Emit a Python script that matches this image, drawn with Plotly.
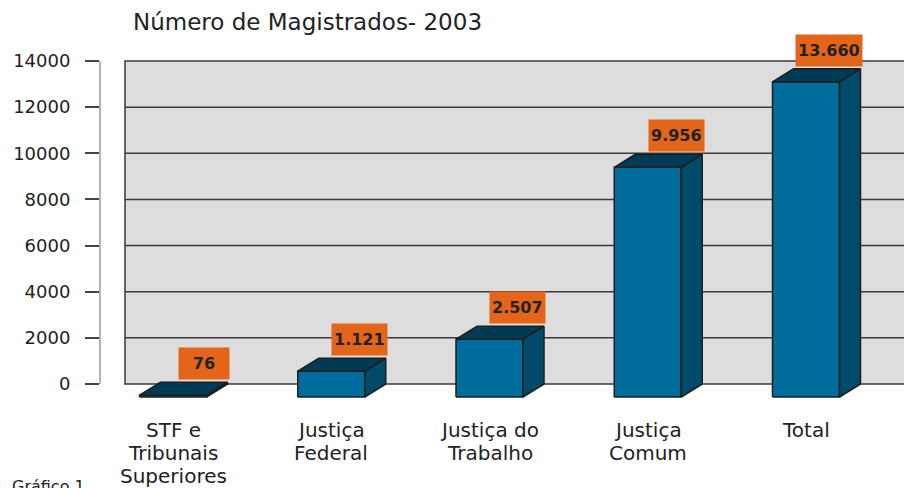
import plotly.graph_objects as go

# ---- data ----
categories = ["STF e<br>Tribunais<br>Superiores", "Justiça<br>Federal",
              "Justiça do<br>Trabalho", "Justiça<br>Comum", "Total"]
values = [76, 1121, 2507, 9956, 13660]
tick_values = [0, 2000, 4000, 6000, 8000, 10000, 12000, 14000]
tick_labels = ["0", "2000", "4000", "6000", "8000", "10000", "12000", "14000"]
title_text = "Número de Magistrados- 2003"
caption_text = "Gráfico 1"

# ---- geometry / style (page pixels; page body has an 8px margin) ----
OFF = 8
W, H = 912 - OFF, 488 - OFF
AXIS_PX = 100 - OFF
ML, MR, MT, MB = AXIS_PX, 0, 0, 0
PX_CAT = 158.25          # px per category
PX_Y = 323 / 14000       # px per value unit
ZERO_PX = 384 - OFF      # pixel row of value 0 on the back wall
FIRST_PX = 173 - OFF     # pixel column of first bar front centre

x_min = (ML - FIRST_PX) / PX_CAT
x_max = (W - MR - FIRST_PX) / PX_CAT
y_max = ZERO_PX / PX_Y
y_min = -(H - ZERO_PX) / PX_Y

half_w = 33.5 / PX_CAT
depth_x = 21 / PX_CAT
depth_y = 13 / PX_Y
wall_left = (125 - OFF - FIRST_PX) / PX_CAT

FRONT = "#006C9B"
SIDE = "#004B69"
TOP = "#003A55"
EDGE = "#1E1E1E"
ORANGE = "#E2651A"
FONT = "DejaVu Sans"
LABEL_SIZE = 16
MIN_BOX_TEXT_W = 46

fig = go.Figure()

for i, v in enumerate(values):
    xl, xr = i - half_w, i + half_w
    yb, yt = -depth_y, v - depth_y
    faces = [
        ([xl, xr, xr, xl, xl], [yb, yb, yt, yt, yb], FRONT),
        ([xr, xr + depth_x, xr + depth_x, xr, xr], [yb, 0, v, yt, yb], SIDE),
        ([xl, xl + depth_x, xr + depth_x, xr, xl], [yt, v, v, yt, yt], TOP),
    ]
    for fx, fy, col in faces:
        fig.add_trace(go.Scatter(x=fx, y=fy, mode="lines", fill="toself",
                                 fillcolor=col, line=dict(color=EDGE, width=1.5),
                                 hoverinfo="skip", showlegend=False))

shapes = [dict(type="rect", xref="x", yref="y", x0=wall_left, x1=x_max + 0.05,
               y0=0, y1=tick_values[-1], fillcolor="#DDDDDD",
               line=dict(color="#3A3A3A", width=1.5), layer="below")]
for t in tick_values[1:-1]:
    shapes.append(dict(type="line", xref="x", yref="y", x0=wall_left, x1=x_max + 0.05,
                       y0=t, y1=t, line=dict(color="#3A3A3A", width=1.5), layer="below"))
shapes.append(dict(type="line", xref="paper", yref="y", x0=0, x1=0,
                   y0=tick_values[0], y1=tick_values[-1],
                   line=dict(color="#9A9A9A", width=1.5)))

annotations = []
LINE_PX = 23
FIRST_LINE_PX = 430 - OFF
for i, v in enumerate(values):
    label = f"{v:,}".replace(",", ".")
    est_w = sum(0.38 if ch == "." else 0.696 for ch in label) * LABEL_SIZE
    ann = dict(x=i + half_w + depth_x + 0.015, y=v, xref="x", yref="y",
               xanchor="right", yanchor="bottom", yshift=2,
               text=f"<b>{label}</b>", showarrow=False,
               font=dict(family=FONT, size=LABEL_SIZE, color="#222222"),
               bgcolor=ORANGE, borderpad=2, height=27)
    if est_w < MIN_BOX_TEXT_W:
        ann["width"] = MIN_BOX_TEXT_W
    annotations.append(ann)
    for k, line in enumerate(categories[i].split("<br>")):
        annotations.append(dict(x=i, y=1 - (FIRST_LINE_PX + k * LINE_PX) / H,
                                xref="x", yref="paper",
                                xanchor="center", yanchor="middle", text=line,
                                showarrow=False,
                                font=dict(family=FONT, size=20, color="#222222")))

annotations.append(dict(x=(131 - OFF - ML) / (W - ML - MR), y=1 - (22 - OFF) / H,
                        xref="paper", yref="paper", xanchor="left", yanchor="middle",
                        text=title_text, showarrow=False,
                        font=dict(family=FONT, size=23, color="#222222")))
annotations.append(dict(x=(10 - OFF - ML) / (W - ML - MR), y=1 - (486 - OFF) / H,
                        xref="paper", yref="paper", xanchor="left", yanchor="middle",
                        text=caption_text, showarrow=False,
                        font=dict(family=FONT, size=16, color="#222222")))

fig.update_layout(
    width=W, height=H, margin=dict(l=ML, r=MR, t=MT, b=MB, pad=0),
    paper_bgcolor="white", plot_bgcolor="white",
    shapes=shapes, annotations=annotations, showlegend=False,
    xaxis=dict(range=[x_min, x_max], visible=False, fixedrange=True),
    yaxis=dict(range=[y_min, y_max], tickvals=tick_values, ticktext=tick_labels,
               ticks="outside", ticklen=14, tickwidth=1.5, tickcolor="#444444",
               showgrid=False, zeroline=False, showline=False, fixedrange=True,
               tickfont=dict(family=FONT, size=18, color="#222222"),
               ticklabelstandoff=11),
)

fig.write_html("out.html")
